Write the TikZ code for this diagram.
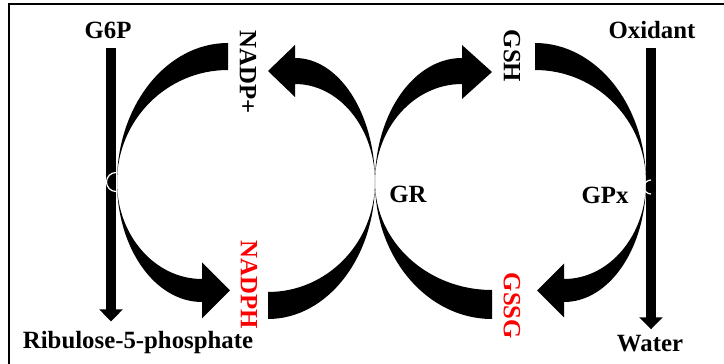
\documentclass[tikz,border=0pt]{standalone}
\usepackage{fontspec}
\setmainfont{Liberation Serif}
\usetikzlibrary{arrows.meta,positioning}

\tikzset{
  lbl/.style={font=\fontsize{12.4}{14}\selectfont\bfseries, inner sep=2pt},
  vlbl/.style={lbl, rotate=-90},
  bar/.style={line width=5pt, -{Triangle[width=11.5pt,length=6pt]}},
  flux/.style={fill=black},
  notch/.style={draw=white, line width=0.6pt},
}

\begin{document}
\begin{tikzpicture}[x=0.5pt,y=0.5pt]
\useasboundingbox (0,0) rectangle (724,364);
\draw[line width=1.2pt] (9,-5) -- (9,360) -- (730,360);

% labels
\node[lbl] (g6p) at (108,334) {G6P};
\node[lbl] (rib) at (138,21) {Ribulose-5-phosphate};
\node[lbl] (ox) at (652,334) {Oxidant};
\node[lbl] (water) at (650,20) {Water};
\node[vlbl] (nadp) at (248,292) {NADP+};
\node[vlbl, red] (nadph) at (249,79) {NADPH};
\node[vlbl] (gsh) at (512,308) {GSH};
\node[vlbl, red] (gssg) at (512,58) {GSSG};
\node[lbl] (gr) at (408,170) {GR};
\node[lbl] (gpx) at (605,169) {GPx};

% meeting points of the arcs
\coordinate (lw) at (117,182);
\coordinate (gw) at (375,182);
\coordinate (rw) at (646,182);

% main pathways
\draw[bar, shorten <=2.5pt, shorten >=3pt] (g6p.south -| lw) ++(-6,0) coordinate (lt) -- (lt |- rib.north);
\draw[bar, shorten <=2.5pt, shorten >=1pt] (ox.south -| rw) ++(5,0) coordinate (rt) -- (rt |- water.north);

% left cycle
\fill[flux] (lw) arc[start angle=180, end angle=90, x radius=111, y radius=139]
  -- ++(0,-27) arc[start angle=90, end angle=180, x radius=111, y radius=112] -- cycle;
\fill[flux] (lw) arc[start angle=180, end angle=270, x radius=85, y radius=120]
  -- ++(0,-16.5) -- ++(28,28) -- ++(-28,28) -- ++(0,-16.5)
  arc[start angle=270, end angle=180, x radius=85, y radius=97] -- cycle;
\fill[flux] (gw) arc[start angle=0, end angle=90, x radius=80, y radius=124]
  -- ++(0,13) -- ++(-27,-26) -- ++(27,-26) -- ++(0,13)
  arc[start angle=90, end angle=0, x radius=80, y radius=98] -- cycle;
\fill[flux] (gw) arc[start angle=0, end angle=-90, x radius=107, y radius=137]
  -- ++(0,27) arc[start angle=-90, end angle=0, x radius=107, y radius=110] -- cycle;

% right cycle
\fill[flux] (gw) arc[start angle=180, end angle=90, x radius=87, y radius=124]
  -- ++(0,13) -- ++(30,-27) -- ++(-30,-27) -- ++(0,15)
  arc[start angle=90, end angle=180, x radius=87, y radius=98] -- cycle;
\fill[flux] (rw) arc[start angle=0, end angle=90, x radius=111, y radius=139]
  -- ++(0,-27) arc[start angle=90, end angle=0, x radius=111, y radius=112] -- cycle;
\fill[flux] (rw) arc[start angle=0, end angle=-90, x radius=82, y radius=120]
  -- ++(0,-15.5) -- ++(-27,27) -- ++(27,27) -- ++(0,-15.5)
  arc[start angle=-90, end angle=0, x radius=82, y radius=97] -- cycle;
\fill[flux] (gw) arc[start angle=180, end angle=270, x radius=117, y radius=137]
  -- ++(0,29) arc[start angle=270, end angle=180, x radius=117, y radius=108] -- cycle;

% enzyme links on the pathways
\draw[notch] (116,191.5) arc[start angle=90, end angle=270, radius=9.5];
\draw[notch] (651,184) arc[start angle=90, end angle=270, radius=7];
\end{tikzpicture}
\end{document}
